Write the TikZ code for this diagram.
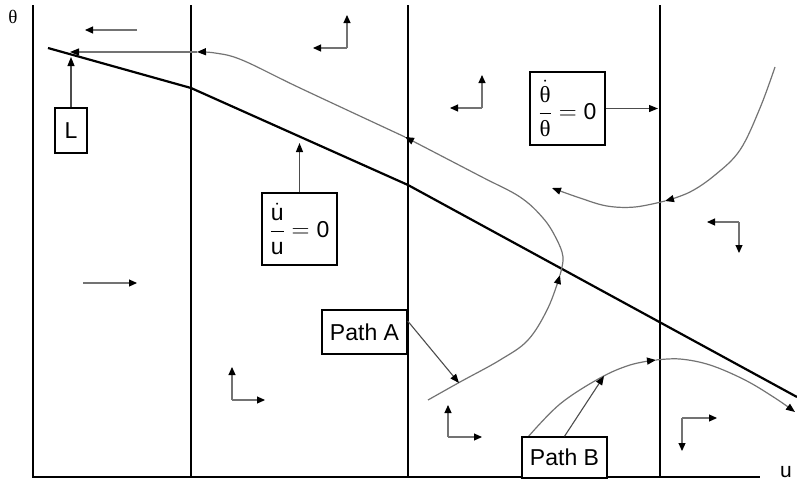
\documentclass[tikz,border=0pt]{standalone}
\usepackage{fontspec}
\setmainfont{Liberation Sans}
\newfontfamily\grkserif{Liberation Serif}
\usetikzlibrary{arrows.meta}
\tikzset{
  axisline/.style={line width=2pt, black},
  lline/.style={line width=2.2pt, black},
  traj/.style={line width=1.2pt, black!55, -{Triangle[length=9pt,width=7pt,black]}},
  phase/.style={line width=1.1pt, black!55, -{Triangle[length=8pt,width=7pt,black]}},
  pointer/.style={line width=1.1pt, black!70, -{Triangle[length=9pt,width=7pt,black]}},
  labelbox/.style={draw, line width=1.4pt, fill=white, inner sep=0pt, font=\fontsize{23}{26}\selectfont},
}
\newcommand{\grkth}{\hbox{\grkserif θ}}
\begin{document}
\begin{tikzpicture}[x=1pt,y=-1pt]
\useasboundingbox (0,0) rectangle (797,488);

% axes and axis labels
\coordinate (origin) at (33,477);
\coordinate (ytop) at (33,5);
\coordinate (xend) at (760,477);
\draw[axisline] (ytop) -- (origin) -- (xend);
\node (thlab) at (13,17) {\fontsize{19}{20}\selectfont\grkserif θ};
\node (ulab) at (786,472) {\fontsize{21}{22}\selectfont u};

% vertical boundaries
\foreach \vx/\vn in {191/va, 408/vb, 660/vc}{
  \coordinate (\vn-top) at (\vx,5);
  \coordinate (\vn-bot) at (\vx,477);
  \draw[axisline] (\vn-top) -- (\vn-bot);
}

% the locus L
\coordinate (l0) at (48,48);
\coordinate (l1) at (191,88);
\coordinate (l2) at (408,185);
\coordinate (l3) at (797,397);
\draw[lline] (l0) -- (l1) -- (l2) -- (l3);

% Path A and its continuation along the top
\coordinate (pa0) at (428,400);
\coordinate (pa1) at (560,275);
\coordinate (pa2) at (405,137);
\coordinate (pa3) at (197,52);
\coordinate (pa4) at (70,52);
\draw[traj] plot[smooth, tension=0.6] coordinates {(pa0) (460,382) (500,360) (528,340) (548,308) (pa1)};
\draw[traj] plot[smooth, tension=0.6] coordinates {(pa1) (563,257) (556,238) (543,218) (520,197) (480,176) (pa2)};
\draw[traj] plot[smooth, tension=0.6] coordinates {(pa2) (300,88) (242,60) (215,53) (pa3)};
\draw[traj] (pa3) -- (pa4);

% upper-right trajectory
\coordinate (ra0) at (775,67);
\coordinate (ra1) at (665,201);
\coordinate (ra2) at (552,188);
\draw[traj] plot[smooth, tension=0.6] coordinates {(ra0) (760,108) (740,150) (715,175) (690,192) (ra1)};
\draw[traj] plot[smooth, tension=0.6] coordinates {(ra1) (635,207) (607,206) (580,198) (ra2)};

% Path B
\coordinate (pb0) at (528,437);
\coordinate (pb1) at (656,360);
\coordinate (pb2) at (795,412);
\draw[traj] plot[smooth, tension=0.6] coordinates {(pb0) (560,404) (600,378) (630,365) (pb1)};
\draw[traj] plot[smooth, tension=0.6] coordinates {(pb1) (680,359) (710,365) (745,380) (775,398) (pb2)};

% phase arrows
\coordinate (h1a) at (137,30); \coordinate (h1b) at (85,30);
\draw[phase] (h1a) -- (h1b);
\coordinate (h5a) at (83,283); \coordinate (h5b) at (137,283);
\draw[phase] (h5a) -- (h5b);
\foreach \cx/\cy/\ux/\uy/\wx/\wy/\nm in {
  347/48/347/15/313/48/c1,
  482/108/482/75/450/108/c2,
  739/222/739/253/707/222/c3,
  232/400/232/367/265/400/c4,
  448/437/448/405/482/437/c5,
  682/418/682/451/717/418/c6}{
  \coordinate (\nm) at (\cx,\cy);
  \coordinate (\nm-v) at (\ux,\uy);
  \coordinate (\nm-h) at (\wx,\wy);
  \draw[phase] (\nm) -- (\nm-v);
  \draw[phase] (\nm) -- (\nm-h);
}

% labels and their pointers
\node[labelbox, minimum width=32pt, minimum height=45pt] (boxL) at (71,130.5) {L};
\coordinate (tipL) at (71,57);
\draw[pointer] (boxL.north) -- (tipL);

\node[labelbox, minimum width=75pt, minimum height=72pt] (boxU) at (299.5,229)
  {$\displaystyle\frac{\dot{\hbox{u}}}{\hbox{u}}=\hbox{0}$};
\coordinate (tipU) at (299.5,143);
\draw[pointer] (boxU.north) -- (tipU);

\node[labelbox, minimum width=75pt, minimum height=73pt] (boxT) at (567.5,108.5)
  {$\displaystyle\frac{\dot{\grkth}}{\grkth}=\hbox{0}$};
\coordinate (tipT) at (658,108.5);
\draw[pointer] (boxT.east) -- (tipT);

\node[labelbox, minimum width=85pt, minimum height=44pt] (boxA) at (364.5,332) {Path A};
\coordinate (tipA) at (459,383);
\draw[pointer] ([yshift=11pt]boxA.east) -- (tipA);

\node[labelbox, minimum width=85pt, minimum height=41pt] (boxB) at (564.5,457.5) {Path B};
\coordinate (tipB) at (604,376);
\draw[pointer] (boxB.north) -- (tipB);
\end{tikzpicture}
\end{document}
